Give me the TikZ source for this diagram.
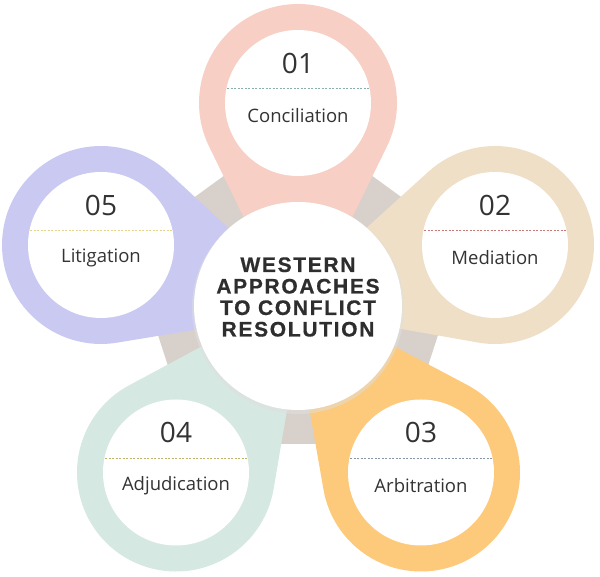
\documentclass[tikz,border=0pt]{standalone}
\usepackage{fontspec}
\setmainfont{Open Sans}
\newfontfamily\titlefont[FakeBold=0.6]{Liberation Sans Bold}
\usetikzlibrary{calc}
\definecolor{ringA}{HTML}{F7CFC4}
\definecolor{ringB}{HTML}{EEDFC6}
\definecolor{ringC}{HTML}{FDC97A}
\definecolor{ringD}{HTML}{D5E8E1}
\definecolor{ringE}{HTML}{C9C9F1}
\definecolor{pentcol}{HTML}{D8D1CB}
\definecolor{txt}{HTML}{333333}
\definecolor{titletxt}{HTML}{2E2E2E}
\definecolor{dashA}{HTML}{8AAFB0}
\definecolor{dashB}{HTML}{C87878}
\definecolor{dashC}{HTML}{8898A8}
\definecolor{dashD}{HTML}{BDB66A}
\definecolor{dashE}{HTML}{E5D58A}
\newcommand\tipd{225}
\newcommand\teardrop[3]{%
  \pgfmathsetmacro\tdth{acos(99/\tipd)}%
  \pgfmathsetmacro\tdst{#2+\tdth}%
  \pgfmathsetmacro\tdde{360-2*\tdth}%
  \fill[#3] ($(#1)+(\tdst:99)$) arc[start angle=\tdst, delta angle=\tdde, radius=99] -- ($(#1)+(#2:\tipd)$) -- cycle;}
\tikzset{
  numtxt/.style={text=txt, font=\fontsize{28}{30}\selectfont, inner sep=0pt},
  labtxt/.style={text=txt, font=\fontsize{18.5}{20}\selectfont, inner sep=0pt},
  sepline/.style={dashed, dash pattern=on 2pt off 1.5pt, line width=0.8pt},
  hole/.style={fill=white},
}
\begin{document}
\begin{tikzpicture}[x=1pt,y=1pt]
\useasboundingbox (0,0) rectangle (600,577);
\coordinate (O) at (298,274);
\coordinate (c1) at (298,474);
\coordinate (c2) at (495,332);
\coordinate (c3) at (421,104.5);
\coordinate (c4) at (176,104.5);
\coordinate (c5) at (101,332);
% pentagon
\fill[pentcol] ($(298,277)+(90:178)$) -- ($(298,277)+(162:178)$) -- ($(298,277)+(234:178)$) -- ($(298,277)+(306:178)$) -- ($(298,277)+(18:178)$) -- cycle;
% rings
\teardrop{c1}{-90}{ringA}
\teardrop{c2}{196.1}{ringB}
\teardrop{c5}{-16.7}{ringE}
\teardrop{c3}{126.0}{ringC}
\teardrop{c4}{54.3}{ringD}
\foreach \c in {c1,c2,c3,c4,c5} {\fill[hole] (\c) circle[radius=73];}
% center circle
\fill[black!12, opacity=0.5] (298,269) circle[radius=106];
\fill[white] (298,271) circle[radius=104];
\node[text=titletxt, align=center, inner sep=0pt, font=\titlefont\fontsize{21}{21.5}\selectfont\addfontfeature{LetterSpace=8}] (title) at (298,280) {WESTERN\\APPROACHES\\TO CONFLICT\\RESOLUTION};
% labels
\node[numtxt] (n1) at ($(c1)+(0,40)$) {01};
\draw[sepline, dashA] ($(c1)+(-71,14.5)$) -- ($(c1)+(71,14.5)$);
\node[labtxt] (l1) at ($(c1)+(0,-13)$) {Conciliation};
\node[numtxt] (n2) at ($(c2)+(0,40)$) {02};
\draw[sepline, dashB] ($(c2)+(-71,14.5)$) -- ($(c2)+(71,14.5)$);
\node[labtxt] (l2) at ($(c2)+(0,-13)$) {Mediation};
\node[numtxt] (n3) at ($(c3)+(0,40)$) {03};
\draw[sepline, dashC] ($(c3)+(-71,14.5)$) -- ($(c3)+(71,14.5)$);
\node[labtxt] (l3) at ($(c3)+(0,-13)$) {Arbitration};
\node[numtxt] (n4) at ($(c4)+(0,40)$) {04};
\draw[sepline, dashD] ($(c4)+(-71,14.5)$) -- ($(c4)+(71,14.5)$);
\node[labtxt] (l4) at ($(c4)+(0,-13)$) {Adjudication};
\node[numtxt] (n5) at ($(c5)+(0,40)$) {05};
\draw[sepline, dashE] ($(c5)+(-71,14.5)$) -- ($(c5)+(71,14.5)$);
\node[labtxt] (l5) at ($(c5)+(0,-13)$) {Litigation};
\end{tikzpicture}
\end{document}
